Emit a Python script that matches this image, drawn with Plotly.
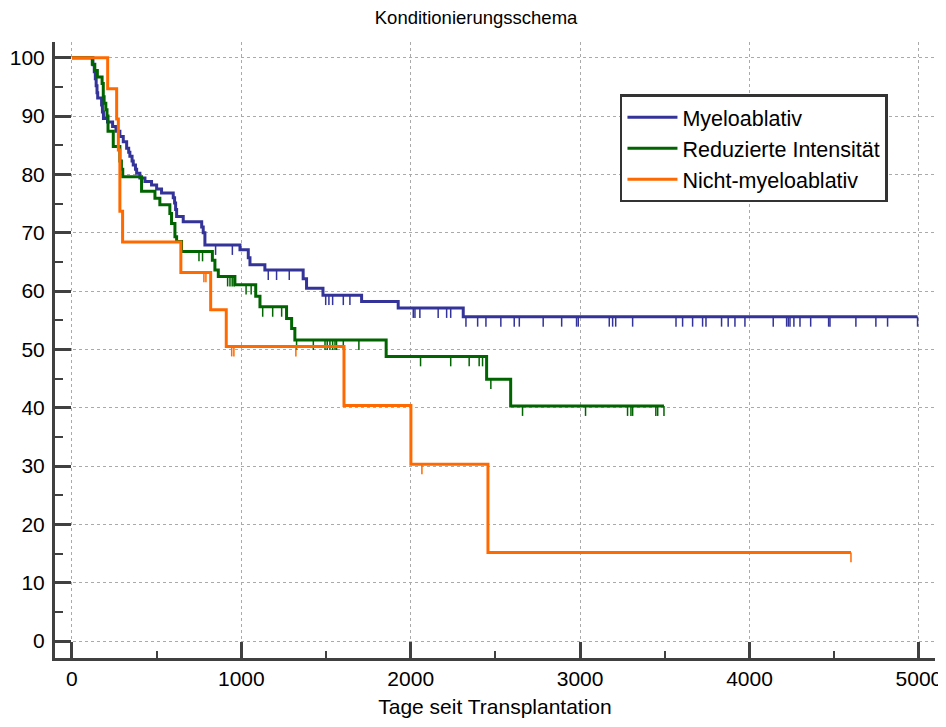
import numpy as np
import plotly.graph_objects as go

# Kaplan-Meier Stufen (Tage seit Transplantation, Überleben in %)
myelo_days = [0, 124, 132, 138, 143, 148, 152, 175, 180, 186, 210, 240, 260, 283, 303,
              323, 335, 342, 355, 362, 375, 382, 401, 431, 470, 500, 529, 598, 606, 612,
              618, 657, 766, 775, 785, 992, 1041, 1051, 1139, 1365, 1385, 1482, 1710,
              1926, 2310]
myelo_surv = [100, 98.8, 97.6, 96.4, 95.2, 94.0, 93.1, 91.9, 90.7, 89.6, 89.0, 88.2, 87.4,
              86.5, 85.6, 84.5, 83.8, 83.1, 82.3, 81.6, 80.9, 80.2, 79.4, 78.8, 78.2, 77.5,
              76.8, 76.0, 75.1, 74.0, 72.8, 71.9, 71.0, 70.0, 67.9, 67.1, 65.7, 64.5, 63.6,
              62.1, 60.5, 59.3, 58.2, 57.1, 55.6]
myelo_censored = [848, 947, 1159, 1208, 1283, 1498, 1517, 1539, 1602, 1641, 2015, 2025,
                  2054, 2162, 2212, 2236, 2326, 2395, 2444, 2532, 2611, 2641, 2782, 2891,
                  2979, 2989, 3172, 3192, 3210, 3310, 3566, 3605, 3664, 3723, 3743, 3835,
                  3874, 3914, 3973, 4140, 4219, 4229, 4239, 4262, 4298, 4361, 4467, 4475,
                  4628, 4746, 4815, 4992]

ric_days = [0, 120, 135, 150, 178, 185, 190, 200, 207, 213, 244, 283, 292, 300, 411, 490,
            519, 578, 588, 608, 618, 647, 829, 844, 864, 962, 1085, 1110, 1267, 1297, 1316,
            1855, 2448, 2590]
ric_surv = [100, 98.9, 97.8, 96.7, 95.6, 93.3, 92.2, 91.1, 90.0, 87.4, 84.8, 82.3, 80.9,
            79.6, 77.1, 75.9, 74.8, 73.3, 71.6, 69.3, 68.5, 66.8, 65.3, 63.6, 62.5, 61.1,
            59.1, 57.3, 55.3, 53.6, 51.6, 48.8, 44.9, 40.3]
ric_censored = [750, 771, 919, 933, 946, 958, 1028, 1058, 1126, 1185, 1238, 1326, 1425,
                1494, 1507, 1523, 1539, 1553, 1562, 1602, 1694, 2058, 2236, 2345, 2404,
                2424, 2473, 2660, 3032, 3280, 3300, 3310, 3447, 3458, 3495]

nma_days = [0, 211, 264, 274, 283, 299, 643, 819, 911, 1606, 2001, 2456]
nma_surv = [100, 94.7, 89.5, 84.2, 73.7, 68.4, 63.2, 56.8, 50.5, 40.4, 30.3, 15.2]
nma_censored = [779, 791, 943, 956, 1322, 2066, 4599]

groups = ['Myeloablativ', 'Reduzierte Intensität', 'Nicht-myeloablativ']
colors = ['#333399', '#006400', '#ff6a00']

fig = go.Figure()


def add_km(name, color, days, surv, censored):
    # Stufenlinie bis zum letzten zensierten Patienten
    x = days + [max(censored)]
    y = surv + [surv[-1]]
    fig.add_trace(go.Scatter(x=x, y=y, name=name, mode='lines',
                             line=dict(color=color, width=3, shape='hv')))

    # Zensierungsstriche hängen unter der Linie
    idx = np.searchsorted(days, censored, side='right') - 1
    cy = np.array(surv)[idx]
    tx, ty = [], []
    for c, v in zip(censored, cy):
        tx += [c, c, None]
        ty += [v, v - 1.7, None]
    fig.add_trace(go.Scatter(x=tx, y=ty, mode='lines', showlegend=False,
                             hoverinfo='skip',
                             line=dict(color=color, width=1.5)))


add_km(groups[0], colors[0], myelo_days, myelo_surv, myelo_censored)
add_km(groups[1], colors[1], ric_days, ric_surv, ric_censored)
add_km(groups[2], colors[2], nma_days, nma_surv, nma_censored)

axis_col = '#404040'

# die Seite hat 8px Rand, daher etwas kleiner als das Fenster
fig.update_layout(
    width=938, height=719,
    margin=dict(l=47, r=11, t=34, b=69, autoexpand=False),
    plot_bgcolor='white', paper_bgcolor='white',
    font=dict(family='Liberation Sans, Arial, sans-serif', size=21, color='black'),
    title=dict(text='Konditionierungsschema', x=0.499, xref='container',
               y=1 - 10 / 719, yref='container', xanchor='center', yanchor='middle',
               font=dict(size=18.5), automargin=False),
    legend=dict(x=0.642, y=0.915, xanchor='left', yanchor='top',
                bordercolor='#333333', borderwidth=2.5, bgcolor='white',
                font=dict(size=21.5), itemwidth=50),
)

fig.update_xaxes(range=[-100, 5095], tick0=0, dtick=1000, automargin=False,
                 showgrid=True, gridcolor='#aaaaaa', griddash='dot', gridwidth=1,
                 showline=True, linecolor=axis_col, linewidth=3, zeroline=False,
                 ticks='inside', ticklen=16, tickwidth=3, tickcolor=axis_col,
                 ticklabelstandoff=0,
                 minor=dict(dtick=500, ticks='inside', ticklen=7, tickwidth=2,
                            tickcolor=axis_col, showgrid=False),
                 title=dict(text='Tage seit Transplantation', standoff=11,
                            font=dict(size=21)))

fig.update_yaxes(range=[-2.9, 102.7], tick0=0, dtick=10, automargin=False,
                 showgrid=True, gridcolor='#aaaaaa', griddash='dot', gridwidth=1,
                 showline=True, linecolor=axis_col, linewidth=3, zeroline=False,
                 ticks='inside', ticklen=16, tickwidth=3, tickcolor=axis_col,
                 ticklabelstandoff=3,
                 minor=dict(dtick=5, ticks='inside', ticklen=8, tickwidth=2,
                            tickcolor=axis_col, showgrid=False))

fig.write_html("out.html")
